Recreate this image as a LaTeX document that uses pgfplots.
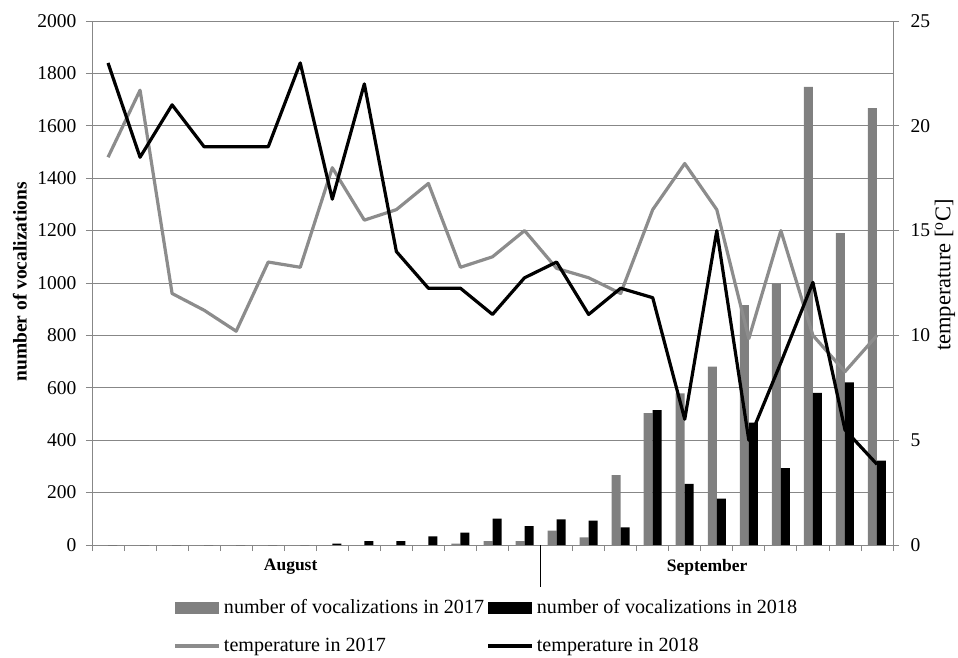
\documentclass[border=0pt]{standalone}
\usepackage{fontspec}
\setmainfont{Liberation Serif}
\usepackage{pgfplots}
\pgfplotsset{compat=1.18}
\definecolor{barg}{RGB}{128,128,128}
\definecolor{lineg}{RGB}{140,140,140}
\definecolor{gridg}{RGB}{135,135,135}
\begin{document}
\begin{tikzpicture}
\path[use as bounding box] (-92pt,-112pt) rectangle (866pt,545pt);
\begin{axis}[
  at={(0pt,0pt)}, anchor=south west,
  scale only axis, width=801pt, height=524pt,
  xmin=-0.5, xmax=24.5, ymin=0, ymax=2000,
  ytick={0,200,...,2000},
  xtick={-0.5,0.5,...,24.5}, xticklabels={},
  axis x line*=bottom, axis y line*=left,
  axis line style={-, gridg, line width=0.8pt},
  tick align=outside, major tick length=6pt,
  tick style={gridg, line width=0.8pt},
  ymajorgrids, major grid style={gridg, line width=0.8pt},
  /pgf/number format/assume math mode=true,
  /pgf/number format/1000 sep={},
  yticklabel style={font=\fontsize{19.5}{20}\selectfont, xshift=-6pt},
  ylabel={\bfseries number of vocalizations},
  ylabel style={font=\fontsize{19.5}{20}\selectfont, at={(axis description cs:-0.090,0.502)}, anchor=center},
  clip=false,
]
\addplot[ybar, bar width=9pt, bar shift=-4.5pt, fill=barg, draw=none] coordinates {
 (0,0) (1,0) (2,0) (3,0) (4,0) (5,0) (6,0) (7,0) (8,0) (9,0) (10,0)
 (11,5) (12,15) (13,15) (14,55) (15,29) (16,267) (17,503) (18,579)
 (19,681) (20,916) (21,999) (22,1749) (23,1190) (24,1667)};
\addplot[ybar, bar width=9pt, bar shift=4.5pt, fill=black, draw=none] coordinates {
 (0,0) (1,0) (2,0) (3,0) (4,0) (5,0) (6,0) (7,5) (8,15) (9,15) (10,33)
 (11,47) (12,101) (13,72) (14,98) (15,93) (16,67) (17,515) (18,233)
 (19,177) (20,467) (21,293) (22,581) (23,621) (24,322)};
\draw[black, line width=0.8pt] (axis cs:13.5,0) -- ++(0pt,-42pt);
\node[font=\fontsize{17.5}{18}\selectfont\bfseries] at (axis cs:5.7,0) [yshift=-22pt] {August};
\node[font=\fontsize{17.5}{18}\selectfont\bfseries] at (axis cs:18.7,0) [yshift=-22pt] {September};
\end{axis}
\begin{axis}[
  at={(0pt,0pt)}, anchor=south west,
  scale only axis, width=801pt, height=524pt,
  xmin=-0.5, xmax=24.5, ymin=0, ymax=25,
  ytick={0,5,...,25},
  axis y line*=right, axis x line=none,
  axis line style={-, gridg, line width=0.8pt},
  tick align=outside, major tick length=6pt,
  tick style={gridg, line width=0.8pt},
  /pgf/number format/assume math mode=true,
  yticklabel style={font=\fontsize{19.5}{20}\selectfont, xshift=8pt},
  ylabel={temperature [\textsuperscript{o}C]},
  ylabel style={font=\fontsize{22.5}{24}\selectfont, at={(axis description cs:1.065,0.515)}, anchor=center},
  legend columns=2,
  legend cell align=left,
  legend style={draw=none, fill=none, at={(axis description cs:0.1011,-0.100)}, anchor=north west,
    font=\fontsize{20.1}{22}\selectfont, inner sep=0pt, row sep=19pt,
    /tikz/every even column/.append style={column sep=0pt},
    /tikz/every odd column/.append style={column sep=1pt}},
  clip=false,
]
\addlegendimage{legend image code/.code={\fill[barg] (0pt,-5.5pt) rectangle (43pt,5.5pt);}}
\addlegendentry{number of vocalizations in 2017}
\addlegendimage{legend image code/.code={\fill[black] (0pt,-5.5pt) rectangle (43pt,5.5pt);}}
\addlegendentry{number of vocalizations in 2018}
\addplot[lineg, line width=3.2pt, line join=round, legend image code/.code={\draw[lineg, line width=3.8pt] (0pt,0pt) -- (44pt,0pt);}] coordinates {
 (0,18.5) (1,21.7) (2,12.0) (3,11.2) (4,10.2) (5,13.5) (6,13.25) (7,18.0) (8,15.5)
 (9,16.0) (10,17.25) (11,13.25) (12,13.75) (13,15.0) (14,13.2) (15,12.75) (16,12.0)
 (17,16.0) (18,18.2) (19,16.0) (20,9.85) (21,15.0) (22,10.0) (23,8.27) (24,10.0)};
\addlegendentry{temperature in 2017}
\addplot[black, line width=3.2pt, line join=round, legend image code/.code={\draw[black, line width=3.8pt] (0pt,0pt) -- (44pt,0pt);}] coordinates {
 (0,23.0) (1,18.5) (2,21.0) (3,19.0) (4,19.0) (5,19.0) (6,23.0) (7,16.5) (8,22.0)
 (9,14.0) (10,12.25) (11,12.25) (12,11.0) (13,12.75) (14,13.5) (15,11.0) (16,12.25)
 (17,11.8) (18,6.0) (19,15.0) (20,5.0) (21,8.7) (22,12.53) (23,5.5) (24,3.85)};
\addlegendentry{temperature in 2018}
\end{axis}
\end{tikzpicture}
\end{document}
